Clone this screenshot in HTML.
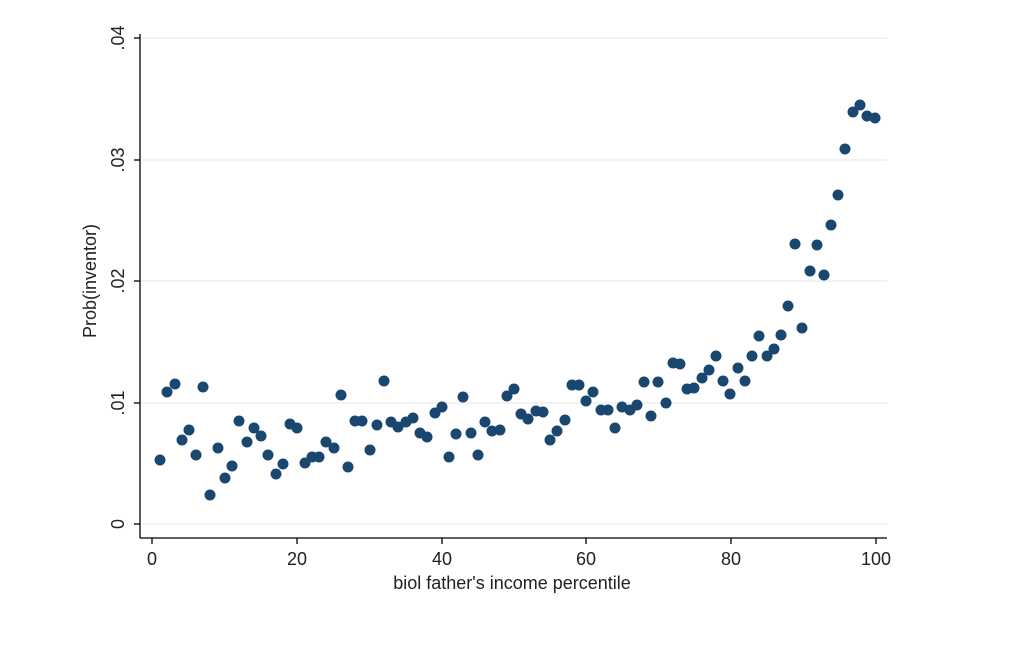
<!DOCTYPE html>
<html><head><style>body{margin:0;background:#fff}svg{display:block}</style></head><body>
<svg width="1024" height="649" xmlns="http://www.w3.org/2000/svg" font-family="Liberation Sans, sans-serif">
<rect width="1024" height="649" fill="#fff"/>
<g stroke="#e6e6e6" stroke-width="1">
<line x1="141" y1="38" x2="887" y2="38"/><line x1="141" y1="160" x2="887" y2="160"/>
<line x1="141" y1="281" x2="887" y2="281"/><line x1="141" y1="403" x2="887" y2="403"/>
<line x1="141" y1="524" x2="887" y2="524"/></g>
<g stroke="#000" stroke-width="1.3">
<line x1="140" y1="34" x2="140" y2="538"/><line x1="140" y1="538" x2="887" y2="538"/>
<line x1="134" y1="38" x2="140" y2="38"/><line x1="134" y1="160" x2="140" y2="160"/><line x1="134" y1="281" x2="140" y2="281"/><line x1="134" y1="403" x2="140" y2="403"/><line x1="134" y1="524" x2="140" y2="524"/>
<line x1="152" y1="538" x2="152" y2="544"/><line x1="297" y1="538" x2="297" y2="544"/><line x1="442" y1="538" x2="442" y2="544"/><line x1="586" y1="538" x2="586" y2="544"/><line x1="731" y1="538" x2="731" y2="544"/><line x1="876" y1="538" x2="876" y2="544"/></g>
<g font-size="18" fill="#222" text-anchor="middle">
<text x="152" y="565">0</text><text x="297" y="565">20</text><text x="442" y="565">40</text><text x="586" y="565">60</text><text x="731" y="565">80</text><text x="876" y="565">100</text>
<text transform="translate(124,38) rotate(-90)">.04</text><text transform="translate(124,160) rotate(-90)">.03</text><text transform="translate(124,281) rotate(-90)">.02</text><text transform="translate(124,403) rotate(-90)">.01</text><text transform="translate(124,524) rotate(-90)">0</text>
<text x="512" y="589">biol father's income percentile</text>
<text transform="translate(96,281) rotate(-90)">Prob(inventor)</text></g>
<g fill="#1a476f">
<circle cx="160" cy="460" r="5.5"/><circle cx="167" cy="392" r="5.5"/><circle cx="175" cy="384" r="5.5"/><circle cx="182" cy="440" r="5.5"/><circle cx="189" cy="430" r="5.5"/><circle cx="196" cy="455" r="5.5"/><circle cx="203" cy="387" r="5.5"/><circle cx="210" cy="495" r="5.5"/><circle cx="218" cy="448" r="5.5"/><circle cx="225" cy="478" r="5.5"/>
<circle cx="232" cy="466" r="5.5"/><circle cx="239" cy="421" r="5.5"/><circle cx="247" cy="442" r="5.5"/><circle cx="254" cy="428" r="5.5"/><circle cx="261" cy="436" r="5.5"/><circle cx="268" cy="455" r="5.5"/><circle cx="276" cy="474" r="5.5"/><circle cx="283" cy="464" r="5.5"/><circle cx="290" cy="424" r="5.5"/><circle cx="297" cy="428" r="5.5"/>
<circle cx="305" cy="463" r="5.5"/><circle cx="312" cy="457" r="5.5"/><circle cx="319" cy="457" r="5.5"/><circle cx="326" cy="442" r="5.5"/><circle cx="334" cy="448" r="5.5"/><circle cx="341" cy="395" r="5.5"/><circle cx="348" cy="467" r="5.5"/><circle cx="355" cy="421" r="5.5"/><circle cx="362" cy="421" r="5.5"/><circle cx="370" cy="450" r="5.5"/>
<circle cx="377" cy="425" r="5.5"/><circle cx="384" cy="381" r="5.5"/><circle cx="391" cy="422" r="5.5"/><circle cx="398" cy="427" r="5.5"/><circle cx="406" cy="422" r="5.5"/><circle cx="413" cy="418" r="5.5"/><circle cx="420" cy="433" r="5.5"/><circle cx="427" cy="437" r="5.5"/><circle cx="435" cy="413" r="5.5"/><circle cx="442" cy="407" r="5.5"/>
<circle cx="449" cy="457" r="5.5"/><circle cx="456" cy="434" r="5.5"/><circle cx="463" cy="397" r="5.5"/><circle cx="471" cy="433" r="5.5"/><circle cx="478" cy="455" r="5.5"/><circle cx="485" cy="422" r="5.5"/><circle cx="492" cy="431" r="5.5"/><circle cx="500" cy="430" r="5.5"/><circle cx="507" cy="396" r="5.5"/><circle cx="514" cy="389" r="5.5"/>
<circle cx="521" cy="414" r="5.5"/><circle cx="528" cy="419" r="5.5"/><circle cx="536" cy="411" r="5.5"/><circle cx="543" cy="412" r="5.5"/><circle cx="550" cy="440" r="5.5"/><circle cx="557" cy="431" r="5.5"/><circle cx="565" cy="420" r="5.5"/><circle cx="572" cy="385" r="5.5"/><circle cx="579" cy="385" r="5.5"/><circle cx="586" cy="401" r="5.5"/>
<circle cx="593" cy="392" r="5.5"/><circle cx="601" cy="410" r="5.5"/><circle cx="608" cy="410" r="5.5"/><circle cx="615" cy="428" r="5.5"/><circle cx="622" cy="407" r="5.5"/><circle cx="630" cy="410" r="5.5"/><circle cx="637" cy="405" r="5.5"/><circle cx="644" cy="382" r="5.5"/><circle cx="651" cy="416" r="5.5"/><circle cx="658" cy="382" r="5.5"/>
<circle cx="666" cy="403" r="5.5"/><circle cx="673" cy="363" r="5.5"/><circle cx="680" cy="364" r="5.5"/><circle cx="687" cy="389" r="5.5"/><circle cx="694" cy="388" r="5.5"/><circle cx="702" cy="378" r="5.5"/><circle cx="709" cy="370" r="5.5"/><circle cx="716" cy="356" r="5.5"/><circle cx="723" cy="381" r="5.5"/><circle cx="730" cy="394" r="5.5"/>
<circle cx="738" cy="368" r="5.5"/><circle cx="745" cy="381" r="5.5"/><circle cx="752" cy="356" r="5.5"/><circle cx="759" cy="336" r="5.5"/><circle cx="767" cy="356" r="5.5"/><circle cx="774" cy="349" r="5.5"/><circle cx="781" cy="335" r="5.5"/><circle cx="788" cy="306" r="5.5"/><circle cx="795" cy="244" r="5.5"/><circle cx="802" cy="328" r="5.5"/>
<circle cx="810" cy="271" r="5.5"/><circle cx="817" cy="245" r="5.5"/><circle cx="824" cy="275" r="5.5"/><circle cx="831" cy="225" r="5.5"/><circle cx="838" cy="195" r="5.5"/><circle cx="845" cy="149" r="5.5"/><circle cx="853" cy="112" r="5.5"/><circle cx="860" cy="105" r="5.5"/><circle cx="867" cy="116" r="5.5"/><circle cx="875" cy="118" r="5.5"/>
</g>
</svg></body></html>
